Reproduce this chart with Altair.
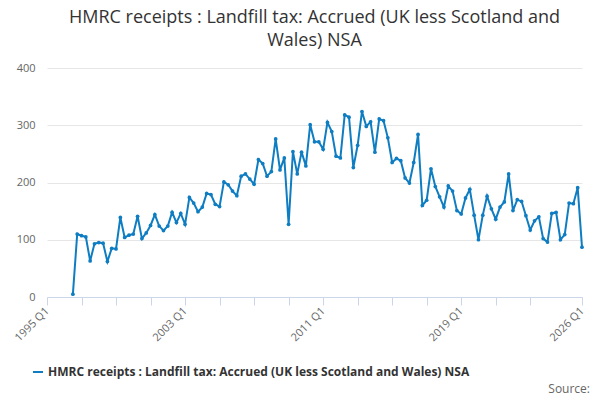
import altair as alt
import pandas as pd

TITLE = ["HMRC receipts : Landfill tax: Accrued (UK less Scotland and", "Wales) NSA"]
SERIES = "HMRC receipts : Landfill tax: Accrued (UK less Scotland and Wales) NSA"
START_YEAR = 1996
START_QUARTER = 3

values = [
    5, 110, 107, 105, 63, 93, 95, 94, 62, 85, 84, 139, 104, 108, 110, 141, 102, 112,
    125, 144, 124, 116, 124, 148, 130, 146, 127, 174, 164, 149, 157, 181, 179, 162, 158,
    201, 196, 185, 177, 211, 215, 206, 197, 240, 233, 211, 219, 276, 222, 243, 127, 254,
    215, 253, 229, 301, 271, 271, 258, 305, 289, 246, 243, 318, 314, 226, 265, 324, 298,
    306, 253, 311, 308, 278, 235, 242, 238,
    208, 199, 235, 284, 160, 169, 224, 193, 175, 157, 194, 185, 151, 145, 173, 188, 143,
    100, 143, 176, 154, 136, 157, 166, 215, 151, 170, 167, 142, 117, 133, 140, 102, 96,
    146, 148, 100, 109, 164, 163, 191, 87,
]

tick_years = [1995, 1997, 1999, 2001, 2003, 2005, 2007, 2009, 2011, 2013, 2015, 2017,
              2019, 2021, 2023, 2026]
label_years = [1995, 2003, 2011, 2019, 2026]

rows = []
for i, v in enumerate(values):
    q = START_QUARTER - 1 + i
    y = START_YEAR + q // 4
    rows.append({"t": y + (q % 4) / 4, "value": v, "series": SERIES})
df = pd.DataFrame(rows)

FONT = "Open Sans"
BLUE = "#0f7dc2"

shown = " || ".join(f"datum.value == {y}" for y in label_years)

line = alt.Chart(df).mark_line(point=alt.OverlayMarkDef(size=14, filled=True), strokeWidth=2).encode(
    x=alt.X("t:Q", scale=alt.Scale(domain=[1995, 2026], nice=False, zero=False),
            axis=alt.Axis(title=None, values=tick_years, grid=False,
                          labelExpr=f"({shown}) ? datum.value + ' Q1' : ''",
                          labelAngle=-45, labelAlign="right", labelBaseline="middle",
                          labelOverlap=False, labelFlush=False, labelBound=False,
                          labelColor="#666", labelFontSize=11, domainColor="#ccd6eb",
                          tickColor="#ccd6eb", tickSize=8, labelPadding=4)),
    y=alt.Y("value:Q", scale=alt.Scale(domain=[0, 400]),
            axis=alt.Axis(title=None, values=[0, 100, 200, 300, 400], domain=False, ticks=False,
                          labelColor="#666", labelFontSize=11, gridColor="#e6e6e6",
                          labelPadding=12)),
    color=alt.Color("series:N", scale=alt.Scale(range=[BLUE]),
                    legend=alt.Legend(title=None, orient="none", legendX=-15, legendY=298,
                                      labelFontSize=12, labelFontWeight="bold",
                                      labelColor="#333", symbolType="stroke",
                                      symbolStrokeWidth=2, labelLimit=600)),
)

source = alt.Chart(pd.DataFrame({"s": ["Source:"]})).mark_text(
    align="right", fontSize=12, color="#666", font=FONT
).encode(x=alt.value(543), y=alt.value(321), text="s:N")

chart = (line + source).properties(
    width=535, height=229,
    title=alt.Title(TITLE, fontSize=18, fontWeight="normal", color="#333", font=FONT,
                    anchor="middle", offset=12, lineHeight=23),
    autosize=alt.AutoSizeParams(type="none"),
    padding={"left": 39, "top": 60, "right": 10, "bottom": 100},
).configure(font=FONT).configure_view(stroke=None)

chart.save("out.html", embed_options={"renderer": "svg", "actions": False})
